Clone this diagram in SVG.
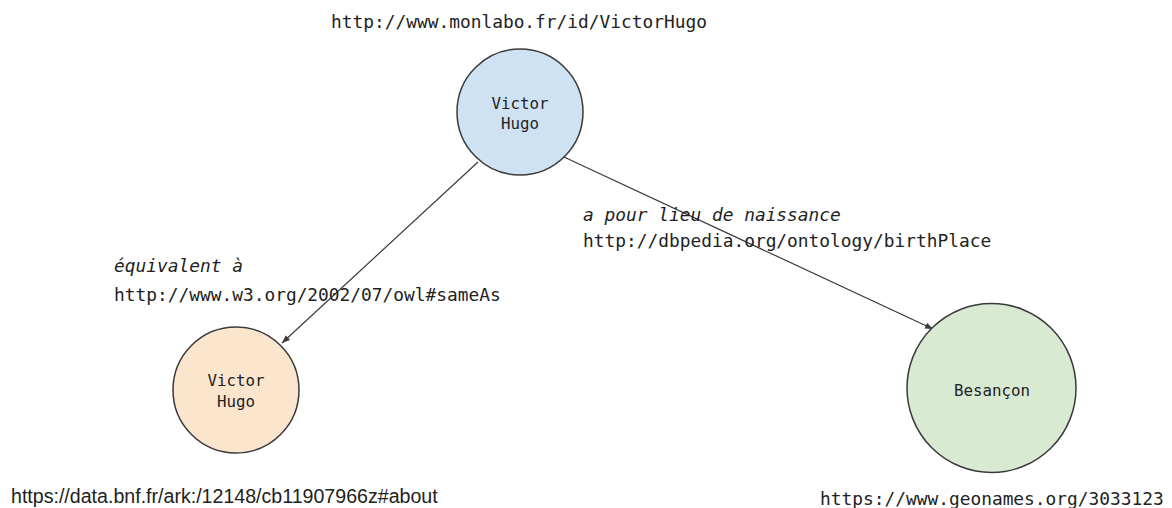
<svg xmlns="http://www.w3.org/2000/svg" width="1172" height="508" viewBox="0 0 1172 508">
<style>
.node{stroke:#3a3a3a;stroke-width:1.5}
.mono{font-family:"DejaVu Sans Mono","Liberation Mono",monospace;fill:#222}
.lbl{font-size:15.8px;text-anchor:middle}
.uri{font-size:17.85px}
.it{font-style:italic}
.sans{font-family:"Liberation Sans",Arial,sans-serif;fill:#222;font-size:19.6px}
.edge{stroke:#3a3a3a;stroke-width:1.2;fill:none;marker-end:url(#arr)}
</style>
<defs>
<marker id="arr" viewBox="0 0 10 10" refX="10" refY="5" markerWidth="8" markerHeight="8" markerUnits="userSpaceOnUse" orient="auto">
<path d="M0,1 L10,5 L0,9 z" fill="#3a3a3a"/>
</marker>
</defs>
<g id="connectors">
<line class="edge" x1="478" y1="162" x2="282" y2="343"/>
<line class="edge" x1="564" y1="157" x2="933" y2="329"/>
</g>
<g id="node-victorhugo-monlabo">
<circle class="node" cx="520" cy="112" r="63" fill="#cfe2f3"/>
<text class="mono lbl" x="520" y="109">Victor</text>
<text class="mono lbl" x="520" y="129">Hugo</text>
<text class="mono uri" x="331" y="28">http://www.monlabo.fr/id/VictorHugo</text>
</g>
<g id="node-victorhugo-bnf">
<circle class="node" cx="236" cy="390" r="63" fill="#fce5cd"/>
<text class="mono lbl" x="236" y="386">Victor</text>
<text class="mono lbl" x="236" y="407">Hugo</text>
<text class="sans" x="11" y="503">https://data.bnf.fr/ark:/12148/cb11907966z#about</text>
</g>
<g id="node-besancon">
<circle class="node" cx="991.5" cy="388" r="84.5" fill="#d9ead3"/>
<text class="mono lbl" x="992" y="396">Besançon</text>
<text class="mono uri" x="820" y="505">https://www.geonames.org/3033123</text>
</g>
<g id="edge-labels">
<text class="mono uri it" x="114" y="272">équivalent à</text>
<text class="mono uri" x="114" y="301">http://www.w3.org/2002/07/owl#sameAs</text>
<text class="mono uri it" x="583" y="221">a pour lieu de naissance</text>
<text class="mono uri" x="583" y="247">http://dbpedia.org/ontology/birthPlace</text>
</g>
</svg>
